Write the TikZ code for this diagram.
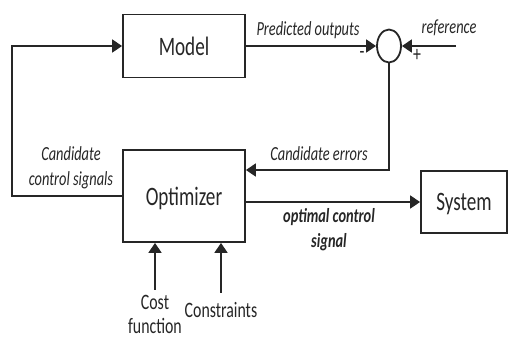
\documentclass[tikz,border=0pt]{standalone}
\usepackage{fontspec}
\setmainfont{Carlito}[FakeStretch=0.72]
\usetikzlibrary{arrows.meta,shapes.geometric}

\begin{document}
\begin{tikzpicture}[x=.5pt, y=-.5pt, line width=.9pt, color=black!85,
		block/.style={draw, rectangle, inner sep=0pt, text depth=0pt, font=\fontsize{13.3}{15}\selectfont},
		lab/.style={font=\fontsize{10}{12.5}\selectfont\itshape, align=center, inner sep=1pt},
		note/.style={font=\fontsize{11}{12}\selectfont, align=center, inner sep=1pt},
		arr/.style={-{Triangle[length=5pt,width=6.5pt]}}]
	\useasboundingbox (0,0) rectangle (508,339);
	% blocks
	\node[block, minimum width=61pt, minimum height=31.5pt] (model) at (184,46) {Model};
	\node[block, minimum width=61pt, minimum height=46pt] (opt) at (184,196) {Optimizer};
	\node[block, minimum width=43pt, minimum height=31pt] (sys) at (464,202) {System};
	\node[draw, ellipse, inner sep=0pt, minimum width=12pt, minimum height=16.5pt] (sum) at (389,46) {};
	% free ends
	\coordinate (fb) at (12,196);
	\coordinate (ref) at (456,46);
	\coordinate (err) at (389,170);
	% labels
	\node[lab, anchor=base] (pred) at (308,35) {Predicted outputs};
	\node[lab, anchor=base] (reflab) at (449,33) {reference};
	\node[lab, anchor=base] (errlab) at (319,160) {Candidate errors};
	\node[lab] (candlab) at (71,168) {Candidate\\control signals};
	\node[lab, font=\fontsize{10}{12.5}\selectfont\bfseries\itshape] (optlab) at (329,230) {optimal control\\signal};
	\node[note] (cost) at (155,314) {Cost\\function};
	\node[note, anchor=base] (cons) at (221,317) {Constraints};
	\node[note] (minus) at (362,55) {-};
	\node[note] (plus) at (417,55) {+};
	% connectors
	\draw[arr] (opt.west) -- (fb) |- (model.west);
	\draw[arr] (model.east) -- (sum.west);
	\draw[arr] (ref) -- (sum.east);
	\draw[arr] (sum.south) -- (err) -- (err -| opt.east);
	\draw[arr] (sys.west -| opt.east) -- (sys.west);
	\draw[arr, shorten <=1pt] (cost.north) -- (cost.north |- opt.south);
	\draw[arr, shorten <=3pt] (cons.north) -- (cons.north |- opt.south);
\end{tikzpicture}
\end{document}
